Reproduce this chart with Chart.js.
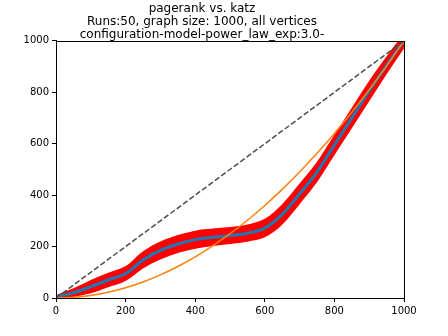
<!DOCTYPE html>
<html>
<head>
<meta charset="utf-8">
<script src="https://cdn.jsdelivr.net/npm/chart.js@4"></script>
<style>
  html, body { margin: 0; padding: 0; background: #fff; }
  #wrap { width: 448px; height: 336px; }
</style>
</head>
<body>
<div id="wrap"><canvas id="myChart" width="448" height="336"></canvas></div>
<script>
// Dados do gráfico
const xs = [0, 50, 100, 150, 200, 250, 300, 350, 400, 450, 500, 550, 600, 650, 700, 750, 800, 850, 900, 950, 1000];
const mean = [5, 20, 44, 70, 95, 148, 185, 210, 227, 236, 243, 252, 272, 325, 405, 490, 595, 700, 805, 905, 1000];
const upper = [12, 38, 70, 98, 124, 182, 220, 245, 262, 270, 276, 286, 308, 365, 445, 530, 635, 740, 845, 940, 1030];
const lower = [0, 4, 18, 42, 66, 115, 150, 175, 192, 202, 210, 219, 236, 285, 365, 450, 555, 660, 765, 870, 970];
const orange = [0, 2.5, 10, 22.5, 40, 62.5, 90, 122.5, 160, 202.5, 250, 302.5, 360, 422.5, 490, 562.5, 640, 722.5, 810, 902.5, 1000];
const diagX = [0, 1000];
const diagY = [0, 1000];
const ticks = [0, 200, 400, 600, 800, 1000];
const titleLines = ['pagerank vs. katz', 'Runs:50, graph size: 1000, all vertices', 'configuration-model-power_law_exp:3.0-'];

function pts(xv, yv) {
  return xv.map((x, i) => ({ x: x, y: yv[i] }));
}

// moldura (spines)
const frame = {
  id: 'frame',
  afterDatasetsDraw(chart) {
    const a = chart.chartArea, c = chart.ctx;
    c.save();
    c.strokeStyle = '#000';
    c.lineWidth = 1;
    c.strokeRect(Math.round(a.left) + 0.5, Math.round(a.top) + 0.5, Math.round(a.right - a.left), Math.round(a.bottom - a.top));
    c.restore();
  }
};

const tickOpts = {
  color: '#000',
  font: { family: 'DejaVu Sans', size: 10 },
  padding: 3,
  callback: (v) => String(v)
};

const ctx = document.getElementById('myChart').getContext('2d');
const myChart = new Chart(ctx, {
  type: 'line',
  data: {
    datasets: [
      {
        label: 'diag',
        data: pts(diagX, diagY),
        borderColor: '#4d4d4d',
        borderWidth: 1.5,
        borderDash: [5.5, 2.4],
        pointRadius: 0,
        fill: false,
        order: 0
      },
      {
        label: 'orange',
        data: pts(xs, orange),
        borderColor: '#ff7f0e',
        borderWidth: 1.5,
        pointRadius: 0,
        cubicInterpolationMode: 'monotone',
        fill: false,
        order: 1
      },
      {
        label: 'mean',
        data: pts(xs, mean),
        borderColor: '#1f77b4',
        borderWidth: 3,
        pointRadius: 0,
        cubicInterpolationMode: 'monotone',
        fill: false,
        order: 2
      },
      {
        label: 'upper',
        data: pts(xs, upper),
        borderColor: '#ff0000',
        backgroundColor: '#ff0000',
        borderWidth: 0,
        pointRadius: 0,
        cubicInterpolationMode: 'monotone',
        fill: '+1',
        order: 3
      },
      {
        label: 'lower',
        data: pts(xs, lower),
        borderColor: '#ff0000',
        borderWidth: 0,
        pointRadius: 0,
        cubicInterpolationMode: 'monotone',
        fill: false,
        order: 4
      }
    ]
  },
  options: {
    responsive: false,
    animation: false,
    layout: { padding: { left: 0, right: 44, top: 2, bottom: 0 } },
    plugins: {
      legend: { display: false },
      tooltip: { enabled: false },
      title: {
        display: true,
        text: titleLines,
        color: '#000',
        font: { family: 'DejaVu Sans', size: 12, weight: 'normal', lineHeight: 1.08 },
        padding: { top: 0, bottom: 0 }
      }
    },
    scales: {
      x: {
        type: 'linear',
        min: 0,
        max: 1000,
        afterBuildTicks: (s) => { s.ticks = ticks.map(v => ({ value: v })); },
        afterFit: (s) => { s.height = 38; },
        ticks: tickOpts,
        grid: { display: true, drawOnChartArea: false, drawTicks: true, tickLength: 4, color: '#000' },
        border: { display: true, color: '#000' }
      },
      y: {
        type: 'linear',
        min: 0,
        max: 1000,
        afterBuildTicks: (s) => { s.ticks = ticks.map(v => ({ value: v })); },
        afterFit: (s) => { s.width = 56; },
        ticks: tickOpts,
        grid: { display: true, drawOnChartArea: false, drawTicks: true, tickLength: 4, color: '#000' },
        border: { display: true, color: '#000' }
      }
    }
  },
  plugins: [frame]
});
</script>
</body>
</html>
